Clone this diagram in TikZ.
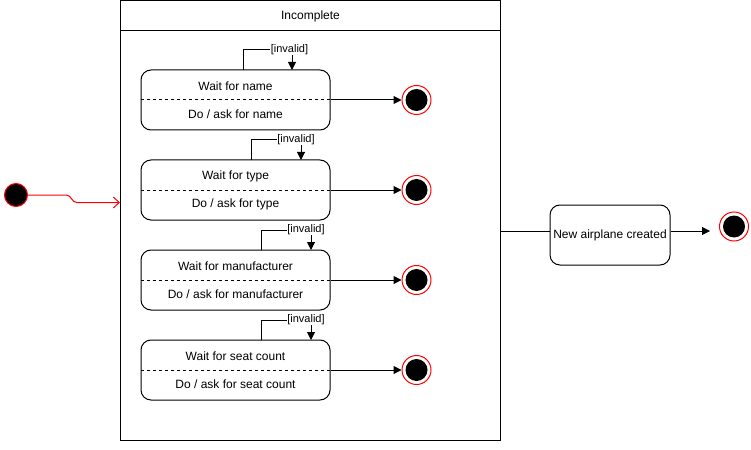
\documentclass[tikz,border=0pt]{standalone}
\usepackage{fontspec}
\setmainfont{Liberation Sans}
\usetikzlibrary{arrows.meta,calc}
\begin{document}
\begin{tikzpicture}[x=1pt,y=-1pt,line width=1pt,
  statebox/.style={draw,rounded corners=10pt,minimum width=189pt,minimum height=60pt,inner sep=0pt},
  txt/.style={font=\fontsize{12}{14}\selectfont,inner sep=0pt},
  lbl/.style={font=\fontsize{11}{13}\selectfont,fill=white,inner sep=0.5pt},
  endout/.style={circle,draw=red,fill=white,minimum size=29pt,inner sep=0pt},
  endin/.style={circle,fill=black,minimum size=22pt,inner sep=0pt},
  arr/.style={-{Triangle[length=8pt,width=8pt]}},
  loopar/.style={-{Triangle[length=8pt,width=8pt]}},
]
\useasboundingbox (0,0) rectangle (751,449);
% outer composite state
\node[draw,minimum width=380pt,minimum height=439pt,inner sep=0pt] (frame) at (310.5,220.5) {};
\coordinate (hl) at (120.5,31);
\coordinate (hr) at (500.5,31);
\draw (hl) -- (hr);
\node[txt] (title) at (310.5,16) {Incomplete};
% initial state
\node[circle,draw=red,fill=black,minimum size=23pt,inner sep=0pt] (init) at (16,195) {};
\coordinate (inarr) at (120,202.5);
\draw[red,-{Straight Barb[length=6pt,width=11pt]},rounded corners=4pt] (init.east) -- ++(42,0) -- ++(3,7.5) -- (inarr);
% states
\foreach \i/\y/\top/\lx/\ax/\lbx/\name in {1/100/70/243/292/289.5/name, 2/190/160/251/301/296/type, 3/280/250/261/311/306/manufacturer, 4/370/340/261/311/306/seat count}{
  \node[statebox] (s\i) at (235.5,\y) {};
  \draw[dashed] (s\i.west) -- (s\i.east);
  \node[txt] (s\i a) at (235.5,\y-13.5) {Wait for \name};
  \node[txt] (s\i b) at (235.5,\y+14.5) {Do / ask for \name};
  \node[endout] (f\i) at (416.5,\y) {};
  \node[endin] (fi\i) at (f\i.center) {};
  \draw[arr] (s\i.east) -- (f\i.west);
  \coordinate (la\i) at (\lx,\top);
  \coordinate (lb\i) at (\ax,\top);
  \draw[loopar] (la\i) -- ++(0,-20) -| (lb\i);
  \node[lbl] (l\i) at (\lbx,\top-20.5) {[invalid]};
}
% new airplane created
\node[draw,rounded corners=10pt,minimum width=120pt,minimum height=60pt,inner sep=0pt,txt] (nb) at (610,235) {New airplane created};
\coordinate (fr) at (500.5,231);
\draw (fr) -- (fr -| nb.west);
\node[endout] (f5) at (734,226.5) {};
\node[endin] (fi5) at (f5.center) {};
\draw[arr] (nb.east |- fr) -- (710,231);
\end{tikzpicture}
\end{document}
